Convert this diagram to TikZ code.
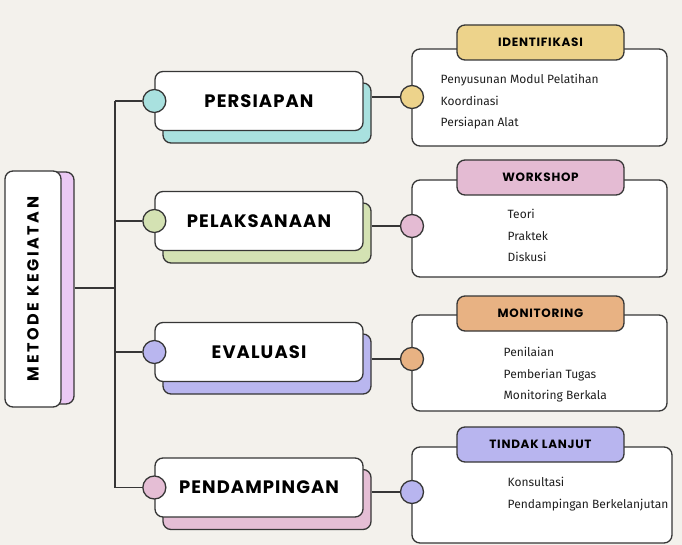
\documentclass[tikz,border=0pt]{standalone}
\usepackage{fontspec}
\setmainfont{Fira Sans}
\newfontfamily\headfont{Poppins}[LetterSpace=6]
\newfontfamily\rootfont{Poppins}[LetterSpace=16]
\usetikzlibrary{positioning}

\definecolor{paper}{HTML}{F3F1EC}
\definecolor{edge}{HTML}{363636}
\definecolor{rootback}{HTML}{EBC9F4}
\definecolor{teal}{HTML}{A9E1DF}
\definecolor{sage}{HTML}{D4E2B3}
\definecolor{lilac}{HTML}{B9B6EF}
\definecolor{rose}{HTML}{E5BED5}
\definecolor{gold}{HTML}{EDD38B}
\definecolor{pinktab}{HTML}{E4BBD3}
\definecolor{peach}{HTML}{E8B283}
\definecolor{periwinkle}{HTML}{B8B5EF}

\begin{document}
\begin{tikzpicture}[x=1pt,y=-1pt,line width=1.3pt,
  box/.style={draw=edge,rounded corners=8pt,inner sep=0pt},
  dot/.style={circle,draw=edge,minimum size=23,inner sep=0pt},
  head/.style={font=\headfont\bfseries\fontsize{18}{18}\selectfont},
  tabtext/.style={font=\headfont\bfseries\fontsize{12}{12}\selectfont},
  item/.style={font=\fontsize{12}{21.5}\selectfont,align=left,anchor=north west,inner sep=0pt,text=black!88}]
  \fill[paper] (0,0) rectangle (682,545);
  % root
  \node[box,fill=rootback,minimum width=59,minimum height=232] (rs) at (44.5,288) {};
  \node[box,fill=white,minimum width=56,minimum height=236,font=\rootfont\bfseries\fontsize{16}{16}\selectfont] (root) at (33,289) {\rotatebox{90}{METODE KEGIATAN}};
  % main branches
  \foreach \i/\y/\c/\lbl in {1/101/teal/PERSIAPAN,2/221/sage/PELAKSANAAN,3/352/lilac/EVALUASI,4/487.5/rose/PENDAMPINGAN}{
    \node[box,fill=\c,minimum width=208,minimum height=60] (ms\i) at (267,\y+12) {};
    \node[box,fill=white,minimum width=208,minimum height=59,head] (m\i) at (259,\y) {\lbl};
    \node[dot,fill=\c] (md\i) at (m\i.west) {};
  }
  % detail boxes
  \foreach \i/\cx/\cy/\w/\h/\dy/\ty/\c/\tab/\tx/\ny/\items in {
    1/539.5/97.5/255/97/97/42.5/gold/IDENTIFIKASI/440/73.5/{Penyusunan Modul Pelatihan\\Koordinasi\\Persiapan Alat},
    2/539.5/228.5/255/97/226/177.5/pinktab/WORKSHOP/507/208.5/{Teori\\Praktek\\Diskusi},
    3/539.5/363/255/96/359/313.5/peach/MONITORING/503/346.5/{Penilaian\\Pemberian Tugas\\Monitoring Berkala},
    4/542/495/260/96/492/444.5/periwinkle/TINDAK LANJUT/507/476.5/{Konsultasi\\Pendampingan Berkelanjutan}}{
    \node[box,fill=white,minimum width=\w,minimum height=\h] (s\i) at (\cx,\cy) {};
    \node[box,fill=\c,minimum width=167,minimum height=35,tabtext] (st\i) at (540.5,\ty) {\tab};
    \node[dot,fill=\c] (sd\i) at (412,\dy) {};
    \node[item] (si\i) at (\tx,\ny) {\items};
  }
  % connectors
  \coordinate (trunk) at (115,288);
  \draw[edge] (rs.east) -- (trunk);
  \draw[edge] (trunk |- md1) -- (trunk |- md4);
  \foreach \i in {1,...,4}{
    \draw[edge] (trunk |- md\i) -- (md\i);
    \draw[edge] (ms\i.east |- sd\i) -- (sd\i);
  }
\end{tikzpicture}
\end{document}
